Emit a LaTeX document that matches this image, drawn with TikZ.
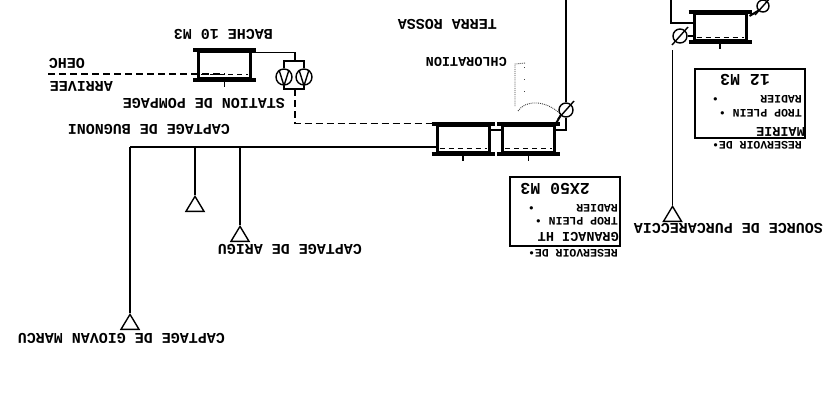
\documentclass[tikz,border=0pt]{standalone}
\usepackage{fontspec}
\usetikzlibrary{arrows.meta,positioning,shapes.geometric,calc}
\newfontfamily\plotfont{Liberation Mono}[BoldFont={Liberation Mono Bold}]
\begin{document}
\begin{tikzpicture}[
  x=1pt, y=-1pt,
  label big/.style={rotate=180, anchor=west, inner sep=0pt, font=\plotfont\bfseries\fontsize{15}{15}\selectfont},
  label huge/.style={rotate=180, anchor=west, inner sep=0pt, font=\plotfont\bfseries\fontsize{16.5}{16.5}\selectfont},
  label mid/.style={rotate=180, anchor=west, inner sep=0pt, font=\plotfont\bfseries\fontsize{13.5}{13.5}\selectfont},
  label small/.style={rotate=180, anchor=west, inner sep=0pt, font=\plotfont\bfseries\fontsize{11.5}{11.5}\selectfont},
  tank/.style={draw=black, line width=3pt, minimum width=52pt, minimum height=27pt, inner sep=0pt},
  tank bar/.style={black, line width=4pt},
  level/.style={black, line width=1pt, dash pattern=on 5pt off 4pt},
  pipe/.style={black, line width=1.4pt},
  feed/.style={black, line width=1.4pt, dash pattern=on 7pt off 4pt},
  chlore/.style={black!75, line width=0.9pt, densely dotted},
  valve/.style={draw=black, circle, line width=1.4pt, minimum size=14pt, inner sep=0pt},
  pump/.style={draw=black, circle, line width=1.4pt, minimum size=16pt, inner sep=0pt},
  captage/.style={draw=black, isosceles triangle, shape border rotate=90, isosceles triangle apex angle=62,
                  line width=1.4pt, minimum height=15pt, minimum width=18pt, inner sep=0pt},
  resbox/.style={draw=black, line width=1.2pt, minimum width=110pt, minimum height=69pt, inner sep=0pt}
]
  \useasboundingbox (0,0) rectangle (827,416);

  % reservoirs
  \node[tank] (bache) at (224.5,64.5) {};
  \node[tank] (granaci) at (463,138.5) {};
  \node[tank] (granacib) at (528.5,138.5) {};
  \node[tank] (mairie) at (720,27) {};
  \foreach \t in {bache,granaci,granacib,mairie} {
    \draw[tank bar] ($(\t.north west)+(-4,0)$) -- ($(\t.north east)+(4,0)$);
    \draw[tank bar] ($(\t.south west)+(-4,0)$) -- ($(\t.south east)+(4,0)$);
    \draw[level] ($(\t.south west)+(4,-5)$) -- ($(\t.south east)+(-4,-5)$);
    \draw[pipe] (\t.south) -- ++(0,7);
  }

  % pumps
  \node[pump] (pumpa) at (284,77) {};
  \node[pump] (pumpb) at (304,77) {};
  \foreach \p in {pumpa,pumpb}
    \draw[pipe] (\p.125) -- (\p.south) -- (\p.55);
  \coordinate (pumpin) at (295,61);
  \coordinate (pumpout) at (295,89);
  \draw[pipe] ($(bache.north east)+(0,3)$) -| (pumpin);
  \draw[pipe] (pumpa.north) |- (pumpin) -| (pumpb.north);
  \draw[pipe] (pumpa.south) |- (pumpout) -| (pumpb.south);
  \draw[feed] (pumpout) |- (granaci.150);
  \coordinate (arrivee) at (48,74);
  \draw[feed] (arrivee) -- (bache.center |- arrivee);

  % valves
  \node[valve] (vterra) at (566,110) {};
  \node[valve] (vmairie) at (680,36) {};
  \node[valve, minimum size=12pt] (vhaut) at (763,6) {};
  \foreach \v in {vterra,vmairie,vhaut}
    \draw[pipe] ($(\v.center)+(-8,9)$) -- ($(\v.center)+(8,-9)$);
  \coordinate (terra) at (566,0);
  \draw[pipe] (terra) -- (vterra);
  \draw[pipe] (vterra) -- (566,130) -- (granacib.east |- 0,130);
  \draw[pipe, line width=2pt] (vterra.-135) -- (granacib.north east);
  \draw[pipe] (granaci.east |- 0,130) -- (granacib.west |- 0,130);
  \coordinate (mairiein) at (671,0);
  \draw[pipe] (mairiein) |- (mairie.west |- 0,23);
  \draw[pipe] (vmairie) -- (mairie.west |- vmairie);
  \draw[pipe, line width=2pt] (vhaut.-135) -- ($(mairie.north east)+(2,4)$);

  % chloration
  \coordinate (chlora) at (525,63);
  \coordinate (chlorb) at (515,64);
  \coordinate (chlorc) at (518,111);
  \draw[chlore] (chlora) -- (chlorb) -- (515,107);
  \draw[chlore] (chlorc) .. controls (525,100) and (545,100) .. (vterra.-160);
  \draw[chlore, dash pattern=on 1pt off 11pt] (524,67) -- (524,102);

  % captages
  \coordinate (collect) at (130,147);
  \draw[pipe] (collect) -- (granaci.west |- collect);
  \node[captage, anchor=apex] (giovan) at (130,313) {};
  \node[captage, anchor=apex] (captb) at (195,195) {};
  \node[captage, anchor=apex] (arigu) at (240,225) {};
  \node[captage, anchor=apex] (source) at (672.5,205) {};
  \draw[pipe] (collect) -- (giovan.apex);
  \draw[pipe] (captb.apex) -- (captb.apex |- collect);
  \draw[pipe] (arigu.apex) -- (arigu.apex |- collect);
  \draw[pipe, line width=1.6pt] (source.apex) -- (672.5,50);

  % reservoir boxes
  \node[resbox] (boxgranaci) at (565,211.5) {};
  \node[resbox] (boxmairie) at (750,103.5) {};

  % labels
  \node[label big] (lbache) at (273,34) {BACHE 10 M3};
  \node[label big] (loehc) at (85,63) {OEHC};
  \node[label big] (larrivee) at (113,86) {ARRIVEE};
  \node[label big] (lstation) at (285,103) {STATION DE POMPAGE};
  \node[label big] (lbugnoni) at (230,129) {CAPTAGE DE BUGNONI};
  \node[label big] (lterra) at (497,24) {TERRA ROSSA};
  \node[label mid] (lchlor) at (507,62) {CHLORATION};
  \node[label big] (larigu) at (362,249) {CAPTAGE DE ARIGU};
  \node[label big] (lgiovan) at (225,338) {CAPTAGE DE GIOVAN MARCU};
  \node[label big] (lsource) at (823,228) {SOURCE DE PURCARECCIA};
  \node[label small] (resa) at (618,253) {RESERVOIR DE•};
  \node[label mid] (resb) at (619,237) {GRANACI HT};
  \node[label small] (resc) at (618,221) {TROP PLEIN •};
  \node[label small] (resd) at (618,208) {RADIER~~~~~~•};
  \node[label huge] (rese) at (590,189) {2X50 M3};
  \node[label small] (mara) at (802,145) {RESERVOIR DE•};
  \node[label mid] (marb) at (805,132) {MAIRIE};
  \node[label small] (marc) at (802,113) {TROP PLEIN •};
  \node[label small] (mard) at (802,99) {RADIER~~~~~~•};
  \node[label huge] (mare) at (770,80) {12 M3};
\end{tikzpicture}
\end{document}
